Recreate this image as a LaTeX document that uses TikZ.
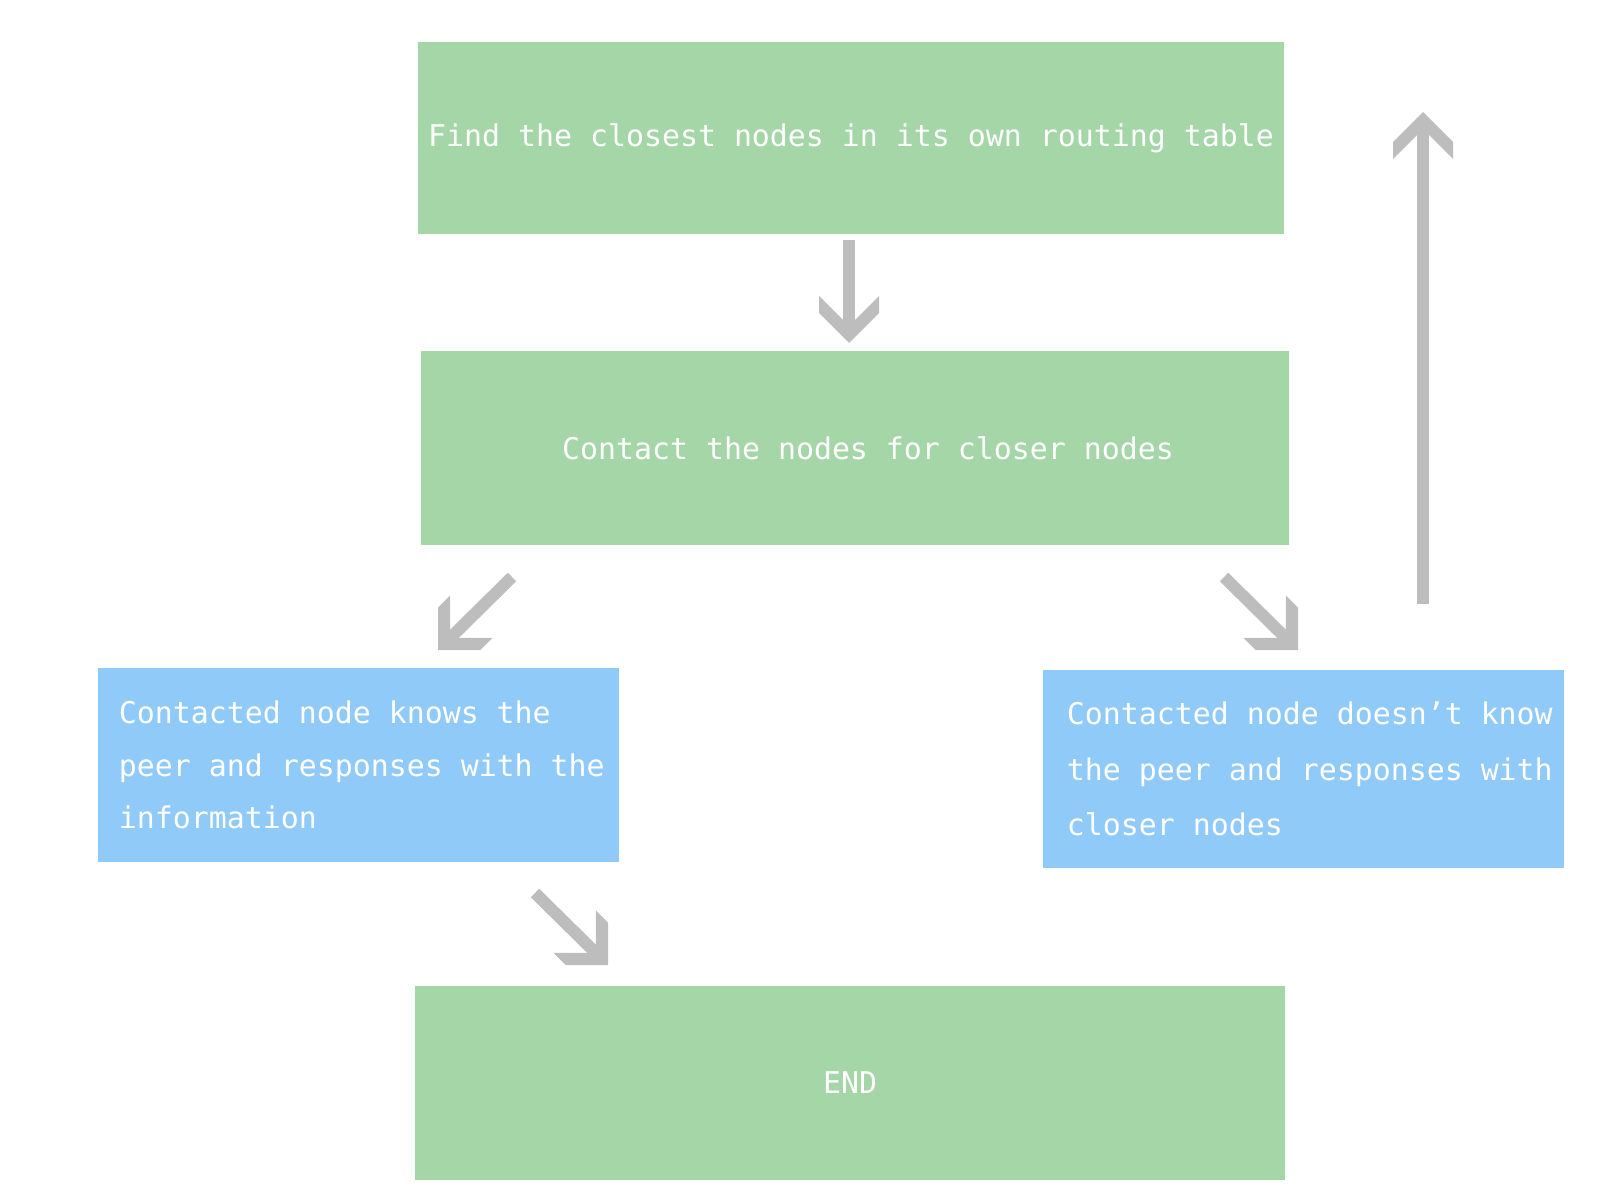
\documentclass[tikz,border=0pt]{standalone}
\usepackage{fontspec}
\setmonofont{DejaVu Sans Mono}
\definecolor{boxgreen}{HTML}{A5D6A7}
\definecolor{boxblue}{HTML}{90CAF9}
\definecolor{arrgrey}{HTML}{BDBDBD}
\tikzset{
  gbox/.style={fill=boxgreen, draw=none, text=white, inner sep=0pt,
    font=\ttfamily\fontsize{8.5}{10}\selectfont},
  bbox/.style={fill=boxblue, draw=none, text=white, inner sep=0pt,
    align=flush left, text width=5.21cm, minimum width=5.21cm},
  shaft/.style={draw=arrgrey, line width=0.12cm, line cap=butt, shorten >=0.17cm},
  pics/chevhead/.style={code={
    \fill[arrgrey] (0,0) -- (-30,30) -- (-47,30) -- (-17,0) -- (-47,-30) -- (-30,-30) -- cycle;
  }}
}
\begin{document}
\begin{tikzpicture}[x=0.01cm, y=-0.01cm]
\useasboundingbox (0,0) rectangle (1600,1200);
\node[gbox, minimum width=8.66cm, minimum height=1.92cm] (find) at (851,138)
  {Find the closest nodes in its own routing table};
\node[gbox, minimum width=8.68cm, minimum height=1.94cm] (contact) at (855,448)
  {\hspace*{0.26cm}Contact the nodes for closer nodes};
\node[bbox, minimum height=1.94cm,
  font=\ttfamily\fontsize{8.5}{14.97}\selectfont] (knows) at (358.5,765)
  {\leftskip=0.21cm Contacted node knows the\\peer and responses with the\\information\par};
\node[bbox, minimum height=1.98cm,
  font=\ttfamily\fontsize{8.5}{15.8}\selectfont] (doesnt) at (1303.5,769)
  {\leftskip=0.24cm Contacted node doesn’t know\\the peer and responses with\\closer nodes\par};
\node[gbox, minimum width=8.70cm, minimum height=1.94cm] (end) at (850,1083) {END};

\coordinate (a1s) at (849,240);  \coordinate (a1e) at (849,343);
\coordinate (a2s) at (512,577);  \coordinate (a2e) at (438,650);
\coordinate (a3s) at (1224,577); \coordinate (a3e) at (1298,650);
\coordinate (a4s) at (535,893);  \coordinate (a4e) at (608,965);
\coordinate (a5s) at (1423,604); \coordinate (a5e) at (1423,112);

\draw[shaft] (a1s) -- (a1e);
\pic[rotate=-90] at (a1e) {chevhead};
\draw[shaft] (a2s) -- (a2e);
\pic[rotate=-135] at (a2e) {chevhead};
\draw[shaft] (a3s) -- (a3e);
\pic[rotate=-45] at (a3e) {chevhead};
\draw[shaft] (a4s) -- (a4e);
\pic[rotate=-45] at (a4e) {chevhead};
\draw[shaft] (a5s) -- (a5e);
\pic[rotate=90] at (a5e) {chevhead};
\end{tikzpicture}
\end{document}
